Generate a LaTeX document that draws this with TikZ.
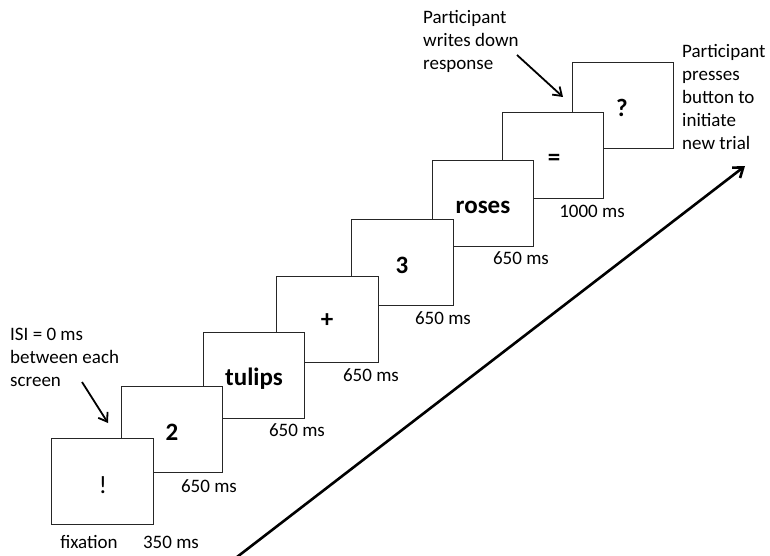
\documentclass[tikz,border=0pt]{standalone}
\usepackage{fontspec}
\setmainfont{Carlito}
\usetikzlibrary{arrows.meta}
\begin{document}
\begin{tikzpicture}[x=1pt,y=-1pt,
  screen/.style={draw=black!85, line width=0.9pt, fill=white, minimum width=101.5pt, minimum height=86pt, inner sep=0pt},
  big/.style={font=\fontsize{25}{30}\selectfont\bfseries, inner sep=0pt},
  bang/.style={font=\fontsize{25}{30}\selectfont, inner sep=0pt},
  lbl/.style={font=\fontsize{19}{23}\selectfont, inner sep=0pt, anchor=base},
  note/.style={font=\fontsize{19}{23}\selectfont, inner sep=0pt, anchor=north west, align=left},
  ptr/.style={line width=1.8pt, -{Straight Barb[length=8pt,width=11pt]}},
  mainarrow/.style={line width=2.6pt, -{Straight Barb[length=9pt,width=13pt]}}
]
\useasboundingbox (0,0) rectangle (770,556);
% screens, drawn from last to first so earlier ones lie on top
\node[screen] (b8) at (623,105.5) {};
\node[screen] (b7) at (553,155) {};
\node[screen] (b6) at (483,203) {};
\node[screen] (b5) at (402.5,262) {};
\node[screen] (b4) at (327.5,319) {};
\node[screen] (b3) at (254,375) {};
\node[screen] (b2) at (172,429) {};
\node[screen] (b1) at (102.5,481) {};
% screen contents
\node[bang] (c1) at (103,485) {!};
\node[big] (c2) at (172,432) {2};
\node[big, anchor=base] (c3) at (254,385) {tulips};
\node[big] (c4) at (327,321) {+};
\node[big] (c5) at (402,265) {3};
\node[big, anchor=base] (c6) at (483,213) {roses};
\node[big] (c7) at (554,160) {=};
\node[big] (c8) at (622,108) {?};
% durations
\node[lbl] (fix) at (89,548) {fixation};
\node[lbl] (d1) at (171,548) {350 ms};
\node[lbl] (d2) at (209,492) {650 ms};
\node[lbl] (d3) at (297,436) {650 ms};
\node[lbl] (d4) at (371,381) {650 ms};
\node[lbl] (d5) at (443,324) {650 ms};
\node[lbl] (d6) at (521,264) {650 ms};
\node[lbl] (d7) at (592,217) {1000 ms};
% notes
\node[note] (isi) at (10,327.8) {ISI = 0 ms\\between each\\screen};
\node[note] (write) at (423,9.8) {Participant\\writes down\\response};
\node[note] (press) at (682,43.8) {Participant\\presses\\button to\\initiate\\new trial};
% arrows
\coordinate (isiS) at (82,382);
\coordinate (isiE) at (108,423);
\coordinate (wrS) at (517,55);
\coordinate (wrE) at (563,97);
\coordinate (mS) at (237,557);
\coordinate (mE) at (745,166);
\draw[ptr] (isiS) -- (isiE);
\draw[ptr] (wrS) -- (wrE);
\draw[mainarrow] (mS) -- (mE);
\end{tikzpicture}
\end{document}
